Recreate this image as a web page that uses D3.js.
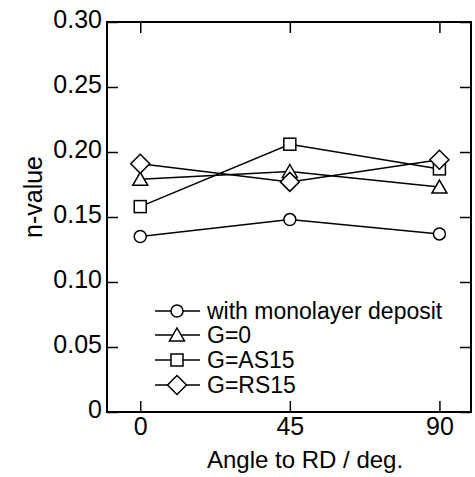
<!DOCTYPE html>
<html>
<head>
<meta charset="utf-8">
<script src="https://cdn.jsdelivr.net/npm/d3@7"></script>
<style>
  body { margin: 0; background: #fff; }
  text { font-family: Arial, "Liberation Sans", sans-serif; fill: #000; }
</style>
</head>
<body>
<script>
// chart data
const angles = [0, 45, 90];
const seriesNames = ["with monolayer deposit", "G=0", "G=AS15", "G=RS15"];
const seriesSymbols = ["circle", "triangle", "square", "diamond"];
const monolayer = [0.135, 0.148, 0.137];
const g0 = [0.179, 0.185, 0.173];
const gAS15 = [0.158, 0.206, 0.187];
const gRS15 = [0.191, 0.177, 0.194];
const yTicks = [0, 0.05, 0.10, 0.15, 0.20, 0.25, 0.30];

const series = [monolayer, g0, gAS15, gRS15];

const width = 475,
    height = 477;
const margin = {top: 22, right: 4, bottom: 65, left: 107};

const svg = d3.select("body").append("svg")
    .attr("width", width)
    .attr("height", height);

const x = d3.scaleLinear()
    .domain([-10, 99.5])
    .range([margin.left, width - margin.right]);

const y = d3.scaleLinear()
    .domain([0, 0.30])
    .range([height - margin.bottom, margin.top]);

const tickLen = 11;
const yFmt = d => d === 0 ? "0" : d3.format(".2f")(d);

// frame
svg.append("rect")
    .attr("x", x.range()[0])
    .attr("y", y.range()[1])
    .attr("width", x.range()[1] - x.range()[0])
    .attr("height", y.range()[0] - y.range()[1])
    .attr("fill", "none")
    .attr("stroke", "#000")
    .attr("stroke-width", 2);

// axes, ticks pointing in
const styleAxis = g => {
    g.select(".domain").remove();
    g.selectAll(".tick line").attr("stroke", "#000").attr("stroke-width", 1.5);
    g.selectAll(".tick text").attr("font-size", 25).attr("font-family", "Arial, 'Liberation Sans', sans-serif");
};

svg.append("g")
    .attr("transform", `translate(0,${y.range()[0]})`)
    .call(d3.axisBottom(x).tickValues(angles).tickSizeInner(-tickLen).tickSizeOuter(0).tickPadding(5))
    .call(styleAxis);

svg.append("g")
    .attr("transform", `translate(0,${y.range()[1]})`)
    .call(d3.axisTop(x).tickValues(angles).tickSizeInner(-tickLen).tickSizeOuter(0).tickFormat(""))
    .call(styleAxis);

svg.append("g")
    .attr("transform", `translate(${x.range()[0]},0)`)
    .call(d3.axisLeft(y).tickValues(yTicks).tickFormat(yFmt).tickSizeInner(-tickLen).tickSizeOuter(0).tickPadding(5))
    .call(styleAxis)
    .selectAll(".tick text").attr("dy", "0.22em");

svg.append("g")
    .attr("transform", `translate(${x.range()[1]},0)`)
    .call(d3.axisRight(y).tickValues(yTicks).tickSizeInner(-tickLen).tickSizeOuter(0).tickFormat(""))
    .call(styleAxis);

// axis titles
svg.append("text")
    .attr("x", 207)
    .attr("y", 468)
    .attr("font-size", 24)
    .text("Angle to RD / deg.");

svg.append("text")
    .attr("transform", "translate(42,197) rotate(-90)")
    .attr("text-anchor", "middle")
    .attr("font-size", 25)
    .text("n-value");

// marker shapes
function marker(sel, kind) {
    if (kind === "circle") {
        sel.append("circle").attr("r", 6);
    } else if (kind === "square") {
        sel.append("rect").attr("x", -6).attr("y", -6).attr("width", 12).attr("height", 12);
    } else if (kind === "triangle") {
        sel.append("path").attr("d", "M0,-7L7.5,6L-7.5,6Z");
    } else {
        sel.append("path").attr("d", "M0,-9.5L9.5,0L0,9.5L-9.5,0Z");
    }
    sel.selectAll("*").attr("fill", "#fff").attr("stroke", "#000").attr("stroke-width", 1.5);
}

const line = d3.line()
    .x((d, i) => x(angles[i]))
    .y(d => y(d));

series.forEach((vals, k) => {
    svg.append("path")
        .datum(vals)
        .attr("d", line)
        .attr("fill", "none")
        .attr("stroke", "#000")
        .attr("stroke-width", 1.5);
});

series.forEach((vals, k) => {
    vals.forEach((v, i) => {
        const g = svg.append("g")
            .attr("transform", `translate(${x(angles[i])},${y(v)})`);
        marker(g, seriesSymbols[k]);
    });
});

// legend
const legend = svg.append("g");
const rowY = [311, 335, 360, 385];
seriesNames.forEach((name, k) => {
    const row = legend.append("g").attr("transform", `translate(0,${rowY[k]})`);
    row.append("line")
        .attr("x1", 155).attr("x2", 200)
        .attr("stroke", "#000").attr("stroke-width", 1.5);
    marker(row.append("g").attr("transform", "translate(177,0)"), seriesSymbols[k]);
    row.append("text")
        .attr("x", 207)
        .attr("dy", "0.36em")
        .attr("font-size", 23)
        .text(name);
});
</script>
</body>
</html>
